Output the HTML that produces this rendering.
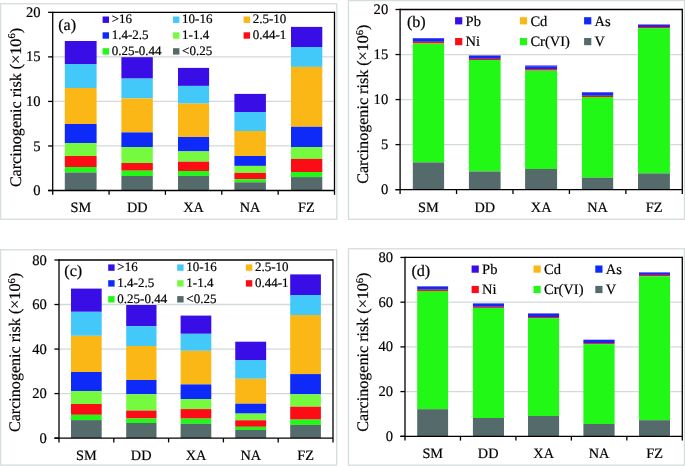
<!DOCTYPE html>
<html><head><meta charset="utf-8"><style>
html,body{margin:0;padding:0;background:#fff;}
svg{display:block;}
text{font-family:"Liberation Serif", serif;fill:#000;text-rendering:geometricPrecision;stroke:#000;stroke-width:0.2px;}
</style></head><body>
<svg width="685" height="466" viewBox="0 0 685 466">
<defs><filter id="bl" x="0" y="0" width="1" height="1"><feGaussianBlur stdDeviation="0.4"/></filter></defs>
<rect x="0" y="0" width="685" height="466" fill="#fff"/>
<g filter="url(#bl)">
<rect x="0" y="0" width="685" height="466" fill="#fff"/>
<rect x="0.55" y="3.75" width="336.3" height="215.5" fill="none" stroke="#d4dedc" stroke-width="1.35"/>
<line x1="52.70" y1="145.96" x2="334.50" y2="145.96" stroke="#d2dada" stroke-width="1.3"/>
<line x1="52.70" y1="101.42" x2="334.50" y2="101.42" stroke="#d2dada" stroke-width="1.3"/>
<line x1="52.70" y1="56.89" x2="334.50" y2="56.89" stroke="#d2dada" stroke-width="1.3"/>
<rect x="64.80" y="41.00" width="31.80" height="23.00" fill="#380ce6"/>
<rect x="64.80" y="64.00" width="31.80" height="24.00" fill="#42c9fa"/>
<rect x="64.80" y="88.00" width="31.80" height="36.00" fill="#fbb716"/>
<rect x="64.80" y="124.00" width="31.80" height="19.00" fill="#0a2af8"/>
<rect x="64.80" y="143.00" width="31.80" height="13.00" fill="#74fa40"/>
<rect x="64.80" y="156.00" width="31.80" height="11.00" fill="#fc0818"/>
<rect x="64.80" y="167.00" width="31.80" height="5.50" fill="#20f818"/>
<rect x="64.80" y="172.50" width="31.80" height="18.00" fill="#546a6b"/>
<rect x="121.40" y="57.20" width="31.40" height="21.40" fill="#380ce6"/>
<rect x="121.40" y="78.60" width="31.40" height="19.80" fill="#42c9fa"/>
<rect x="121.40" y="98.40" width="31.40" height="34.00" fill="#fbb716"/>
<rect x="121.40" y="132.40" width="31.40" height="14.60" fill="#0a2af8"/>
<rect x="121.40" y="147.00" width="31.40" height="16.00" fill="#74fa40"/>
<rect x="121.40" y="163.00" width="31.40" height="7.70" fill="#fc0818"/>
<rect x="121.40" y="170.70" width="31.40" height="5.30" fill="#20f818"/>
<rect x="121.40" y="176.00" width="31.40" height="14.50" fill="#546a6b"/>
<rect x="178.00" y="67.90" width="31.10" height="18.00" fill="#380ce6"/>
<rect x="178.00" y="85.90" width="31.10" height="17.70" fill="#42c9fa"/>
<rect x="178.00" y="103.60" width="31.10" height="33.40" fill="#fbb716"/>
<rect x="178.00" y="137.00" width="31.10" height="14.40" fill="#0a2af8"/>
<rect x="178.00" y="151.40" width="31.10" height="10.30" fill="#74fa40"/>
<rect x="178.00" y="161.70" width="31.10" height="9.30" fill="#fc0818"/>
<rect x="178.00" y="171.00" width="31.10" height="4.90" fill="#20f818"/>
<rect x="178.00" y="175.90" width="31.10" height="14.60" fill="#546a6b"/>
<rect x="234.40" y="93.90" width="31.50" height="18.10" fill="#380ce6"/>
<rect x="234.40" y="112.00" width="31.50" height="19.00" fill="#42c9fa"/>
<rect x="234.40" y="131.00" width="31.50" height="25.00" fill="#fbb716"/>
<rect x="234.40" y="156.00" width="31.50" height="9.90" fill="#0a2af8"/>
<rect x="234.40" y="165.90" width="31.50" height="7.00" fill="#74fa40"/>
<rect x="234.40" y="172.90" width="31.50" height="6.30" fill="#fc0818"/>
<rect x="234.40" y="179.20" width="31.50" height="3.10" fill="#20f818"/>
<rect x="234.40" y="182.30" width="31.50" height="8.20" fill="#546a6b"/>
<rect x="291.00" y="26.90" width="31.30" height="20.10" fill="#380ce6"/>
<rect x="291.00" y="47.00" width="31.30" height="19.90" fill="#42c9fa"/>
<rect x="291.00" y="66.90" width="31.30" height="59.90" fill="#fbb716"/>
<rect x="291.00" y="126.80" width="31.30" height="20.20" fill="#0a2af8"/>
<rect x="291.00" y="147.00" width="31.30" height="11.90" fill="#74fa40"/>
<rect x="291.00" y="158.90" width="31.30" height="13.10" fill="#fc0818"/>
<rect x="291.00" y="172.00" width="31.30" height="5.10" fill="#20f818"/>
<rect x="291.00" y="177.10" width="31.30" height="13.40" fill="#546a6b"/>
<line x1="52.70" y1="12.35" x2="334.50" y2="12.35" stroke="#000" stroke-width="1.3"/>
<line x1="334.50" y1="11.70" x2="334.50" y2="194.80" stroke="#000" stroke-width="1.3"/>
<line x1="52.70" y1="11.70" x2="52.70" y2="194.80" stroke="#000" stroke-width="1.3"/>
<line x1="48.10" y1="190.50" x2="334.50" y2="190.50" stroke="#000" stroke-width="1.3"/>
<line x1="48.10" y1="190.50" x2="52.70" y2="190.50" stroke="#000" stroke-width="1.3"/>
<text x="40.60" y="195.10" font-size="14.6px" text-anchor="end" >0</text>
<line x1="48.10" y1="145.96" x2="52.70" y2="145.96" stroke="#000" stroke-width="1.3"/>
<text x="40.60" y="150.56" font-size="14.6px" text-anchor="end" >5</text>
<line x1="48.10" y1="101.42" x2="52.70" y2="101.42" stroke="#000" stroke-width="1.3"/>
<text x="40.60" y="106.02" font-size="14.6px" text-anchor="end" >10</text>
<line x1="48.10" y1="56.89" x2="52.70" y2="56.89" stroke="#000" stroke-width="1.3"/>
<text x="40.60" y="61.49" font-size="14.6px" text-anchor="end" >15</text>
<line x1="48.10" y1="12.35" x2="52.70" y2="12.35" stroke="#000" stroke-width="1.3"/>
<text x="40.60" y="16.95" font-size="14.6px" text-anchor="end" >20</text>
<line x1="109.06" y1="190.50" x2="109.06" y2="194.80" stroke="#000" stroke-width="1.3"/>
<line x1="165.42" y1="190.50" x2="165.42" y2="194.80" stroke="#000" stroke-width="1.3"/>
<line x1="221.78" y1="190.50" x2="221.78" y2="194.80" stroke="#000" stroke-width="1.3"/>
<line x1="278.14" y1="190.50" x2="278.14" y2="194.80" stroke="#000" stroke-width="1.3"/>
<text x="80.88" y="212.30" font-size="14.3px" text-anchor="middle" >SM</text>
<text x="137.24" y="212.30" font-size="14.3px" text-anchor="middle" >DD</text>
<text x="193.60" y="212.30" font-size="14.3px" text-anchor="middle" >XA</text>
<text x="249.96" y="212.30" font-size="14.3px" text-anchor="middle" >NA</text>
<text x="306.32" y="212.30" font-size="14.3px" text-anchor="middle" >FZ</text>
<rect x="102.60" y="16.50" width="6.40" height="6.40" fill="#380ce6"/>
<text x="111.70" y="23.40" font-size="13px" text-anchor="start" >&gt;16</text>
<rect x="173.00" y="16.50" width="6.40" height="6.40" fill="#42c9fa"/>
<text x="182.10" y="23.40" font-size="13px" text-anchor="start" >10-16</text>
<rect x="243.60" y="16.50" width="6.40" height="6.40" fill="#fbb716"/>
<text x="252.70" y="23.40" font-size="13px" text-anchor="start" >2.5-10</text>
<rect x="102.60" y="32.30" width="6.40" height="6.40" fill="#0a2af8"/>
<text x="111.70" y="39.20" font-size="13px" text-anchor="start" >1.4-2.5</text>
<rect x="173.00" y="32.30" width="6.40" height="6.40" fill="#74fa40"/>
<text x="182.10" y="39.20" font-size="13px" text-anchor="start" >1-1.4</text>
<rect x="243.60" y="32.30" width="6.40" height="6.40" fill="#fc0818"/>
<text x="252.70" y="39.20" font-size="13px" text-anchor="start" >0.44-1</text>
<rect x="102.60" y="48.20" width="6.40" height="6.40" fill="#20f818"/>
<text x="111.70" y="55.10" font-size="13px" text-anchor="start" >0.25-0.44</text>
<rect x="173.00" y="48.20" width="6.40" height="6.40" fill="#546a6b"/>
<text x="182.10" y="55.10" font-size="13px" text-anchor="start" >&lt;0.25</text>
<text x="58.20" y="30.00" font-size="16.2px" text-anchor="start" >(a)</text>
<text transform="translate(20.60,107.55) rotate(-90)" font-size="16.1px" text-anchor="middle">Carcinogenic risk (×10<tspan font-size="10.5px" dy="-5.6">6</tspan><tspan dy="5.6">)</tspan></text>
<rect x="0.55" y="249.8" width="336.15" height="215.3" fill="none" stroke="#d4dedc" stroke-width="1.35"/>
<line x1="59.00" y1="393.58" x2="333.00" y2="393.58" stroke="#d2dada" stroke-width="1.3"/>
<line x1="59.00" y1="349.05" x2="333.00" y2="349.05" stroke="#d2dada" stroke-width="1.3"/>
<line x1="59.00" y1="304.52" x2="333.00" y2="304.52" stroke="#d2dada" stroke-width="1.3"/>
<rect x="71.00" y="288.60" width="30.70" height="23.20" fill="#380ce6"/>
<rect x="71.00" y="311.80" width="30.70" height="24.00" fill="#42c9fa"/>
<rect x="71.00" y="335.80" width="30.70" height="36.20" fill="#fbb716"/>
<rect x="71.00" y="372.00" width="30.70" height="19.00" fill="#0a2af8"/>
<rect x="71.00" y="391.00" width="30.70" height="13.00" fill="#74fa40"/>
<rect x="71.00" y="404.00" width="30.70" height="10.80" fill="#fc0818"/>
<rect x="71.00" y="414.80" width="30.70" height="5.30" fill="#20f818"/>
<rect x="71.00" y="420.10" width="30.70" height="18.00" fill="#546a6b"/>
<rect x="126.20" y="305.00" width="30.30" height="21.10" fill="#380ce6"/>
<rect x="126.20" y="326.10" width="30.30" height="19.90" fill="#42c9fa"/>
<rect x="126.20" y="346.00" width="30.30" height="34.00" fill="#fbb716"/>
<rect x="126.20" y="380.00" width="30.30" height="14.20" fill="#0a2af8"/>
<rect x="126.20" y="394.20" width="30.30" height="16.40" fill="#74fa40"/>
<rect x="126.20" y="410.60" width="30.30" height="7.90" fill="#fc0818"/>
<rect x="126.20" y="418.50" width="30.30" height="4.50" fill="#20f818"/>
<rect x="126.20" y="423.00" width="30.30" height="15.10" fill="#546a6b"/>
<rect x="180.60" y="315.60" width="30.70" height="18.20" fill="#380ce6"/>
<rect x="180.60" y="333.80" width="30.70" height="17.00" fill="#42c9fa"/>
<rect x="180.60" y="350.80" width="30.70" height="33.60" fill="#fbb716"/>
<rect x="180.60" y="384.40" width="30.70" height="14.60" fill="#0a2af8"/>
<rect x="180.60" y="399.00" width="30.70" height="10.10" fill="#74fa40"/>
<rect x="180.60" y="409.10" width="30.70" height="9.50" fill="#fc0818"/>
<rect x="180.60" y="418.60" width="30.70" height="5.20" fill="#20f818"/>
<rect x="180.60" y="423.80" width="30.70" height="14.30" fill="#546a6b"/>
<rect x="235.25" y="341.70" width="30.90" height="18.30" fill="#380ce6"/>
<rect x="235.25" y="360.00" width="30.90" height="18.75" fill="#42c9fa"/>
<rect x="235.25" y="378.75" width="30.90" height="24.95" fill="#fbb716"/>
<rect x="235.25" y="403.70" width="30.90" height="9.90" fill="#0a2af8"/>
<rect x="235.25" y="413.60" width="30.90" height="6.70" fill="#74fa40"/>
<rect x="235.25" y="420.30" width="30.90" height="6.50" fill="#fc0818"/>
<rect x="235.25" y="426.80" width="30.90" height="3.20" fill="#20f818"/>
<rect x="235.25" y="430.00" width="30.90" height="8.10" fill="#546a6b"/>
<rect x="290.20" y="274.40" width="30.70" height="20.60" fill="#380ce6"/>
<rect x="290.20" y="295.00" width="30.70" height="20.00" fill="#42c9fa"/>
<rect x="290.20" y="315.00" width="30.70" height="59.10" fill="#fbb716"/>
<rect x="290.20" y="374.10" width="30.70" height="20.20" fill="#0a2af8"/>
<rect x="290.20" y="394.30" width="30.70" height="12.40" fill="#74fa40"/>
<rect x="290.20" y="406.70" width="30.70" height="12.90" fill="#fc0818"/>
<rect x="290.20" y="419.60" width="30.70" height="5.30" fill="#20f818"/>
<rect x="290.20" y="424.90" width="30.70" height="13.20" fill="#546a6b"/>
<line x1="59.00" y1="260.00" x2="333.00" y2="260.00" stroke="#000" stroke-width="1.3"/>
<line x1="333.00" y1="259.35" x2="333.00" y2="442.40" stroke="#000" stroke-width="1.3"/>
<line x1="59.00" y1="259.35" x2="59.00" y2="442.40" stroke="#000" stroke-width="1.3"/>
<line x1="54.40" y1="438.10" x2="333.00" y2="438.10" stroke="#000" stroke-width="1.3"/>
<line x1="54.40" y1="438.10" x2="59.00" y2="438.10" stroke="#000" stroke-width="1.3"/>
<text x="46.80" y="442.70" font-size="14.6px" text-anchor="end" >0</text>
<line x1="54.40" y1="393.58" x2="59.00" y2="393.58" stroke="#000" stroke-width="1.3"/>
<text x="46.80" y="398.18" font-size="14.6px" text-anchor="end" >20</text>
<line x1="54.40" y1="349.05" x2="59.00" y2="349.05" stroke="#000" stroke-width="1.3"/>
<text x="46.80" y="353.65" font-size="14.6px" text-anchor="end" >40</text>
<line x1="54.40" y1="304.52" x2="59.00" y2="304.52" stroke="#000" stroke-width="1.3"/>
<text x="46.80" y="309.12" font-size="14.6px" text-anchor="end" >60</text>
<line x1="54.40" y1="260.00" x2="59.00" y2="260.00" stroke="#000" stroke-width="1.3"/>
<text x="46.80" y="264.60" font-size="14.6px" text-anchor="end" >80</text>
<line x1="113.80" y1="438.10" x2="113.80" y2="442.40" stroke="#000" stroke-width="1.3"/>
<line x1="168.60" y1="438.10" x2="168.60" y2="442.40" stroke="#000" stroke-width="1.3"/>
<line x1="223.40" y1="438.10" x2="223.40" y2="442.40" stroke="#000" stroke-width="1.3"/>
<line x1="278.20" y1="438.10" x2="278.20" y2="442.40" stroke="#000" stroke-width="1.3"/>
<text x="86.40" y="459.80" font-size="14.3px" text-anchor="middle" >SM</text>
<text x="141.20" y="459.80" font-size="14.3px" text-anchor="middle" >DD</text>
<text x="196.00" y="459.80" font-size="14.3px" text-anchor="middle" >XA</text>
<text x="250.80" y="459.80" font-size="14.3px" text-anchor="middle" >NA</text>
<text x="305.60" y="459.80" font-size="14.3px" text-anchor="middle" >FZ</text>
<rect x="108.20" y="264.40" width="6.40" height="6.40" fill="#380ce6"/>
<text x="117.30" y="271.30" font-size="13px" text-anchor="start" >&gt;16</text>
<rect x="177.20" y="264.40" width="6.40" height="6.40" fill="#42c9fa"/>
<text x="186.30" y="271.30" font-size="13px" text-anchor="start" >10-16</text>
<rect x="245.90" y="264.40" width="6.40" height="6.40" fill="#fbb716"/>
<text x="255.00" y="271.30" font-size="13px" text-anchor="start" >2.5-10</text>
<rect x="108.20" y="280.20" width="6.40" height="6.40" fill="#0a2af8"/>
<text x="117.30" y="287.10" font-size="13px" text-anchor="start" >1.4-2.5</text>
<rect x="177.20" y="280.20" width="6.40" height="6.40" fill="#74fa40"/>
<text x="186.30" y="287.10" font-size="13px" text-anchor="start" >1-1.4</text>
<rect x="245.90" y="280.20" width="6.40" height="6.40" fill="#fc0818"/>
<text x="255.00" y="287.10" font-size="13px" text-anchor="start" >0.44-1</text>
<rect x="108.20" y="296.10" width="6.40" height="6.40" fill="#20f818"/>
<text x="117.30" y="303.00" font-size="13px" text-anchor="start" >0.25-0.44</text>
<rect x="177.20" y="296.10" width="6.40" height="6.40" fill="#546a6b"/>
<text x="186.30" y="303.00" font-size="13px" text-anchor="start" >&lt;0.25</text>
<text x="64.30" y="276.10" font-size="16.2px" text-anchor="start" >(c)</text>
<text transform="translate(20.40,352.50) rotate(-90)" font-size="16.1px" text-anchor="middle">Carcinogenic risk (×10<tspan font-size="10.5px" dy="-5.6">6</tspan><tspan dy="5.6">)</tspan></text>
<rect x="348.45" y="0.55" width="336.00000000000006" height="218.7" fill="none" stroke="#d4dedc" stroke-width="1.35"/>
<line x1="400.10" y1="144.61" x2="682.30" y2="144.61" stroke="#d2dada" stroke-width="1.3"/>
<line x1="400.10" y1="99.58" x2="682.30" y2="99.58" stroke="#d2dada" stroke-width="1.3"/>
<line x1="400.10" y1="54.54" x2="682.30" y2="54.54" stroke="#d2dada" stroke-width="1.3"/>
<rect x="412.80" y="38.00" width="31.30" height="0.60" fill="#380ce6"/>
<rect x="412.80" y="38.60" width="31.30" height="0.00" fill="#fbb716"/>
<rect x="412.80" y="38.60" width="31.30" height="3.20" fill="#0a2af8"/>
<rect x="412.80" y="41.80" width="31.30" height="1.70" fill="#fc0818"/>
<rect x="412.80" y="43.50" width="31.30" height="118.90" fill="#20f818"/>
<rect x="412.80" y="162.40" width="31.30" height="27.25" fill="#546a6b"/>
<rect x="468.90" y="55.00" width="31.70" height="0.50" fill="#380ce6"/>
<rect x="468.90" y="55.50" width="31.70" height="0.30" fill="#fbb716"/>
<rect x="468.90" y="55.80" width="31.70" height="3.00" fill="#0a2af8"/>
<rect x="468.90" y="58.80" width="31.70" height="1.20" fill="#fc0818"/>
<rect x="468.90" y="60.00" width="31.70" height="111.50" fill="#20f818"/>
<rect x="468.90" y="171.50" width="31.70" height="18.15" fill="#546a6b"/>
<rect x="525.10" y="65.50" width="32.00" height="0.50" fill="#380ce6"/>
<rect x="525.10" y="66.00" width="32.00" height="0.20" fill="#fbb716"/>
<rect x="525.10" y="66.20" width="32.00" height="2.90" fill="#0a2af8"/>
<rect x="525.10" y="69.10" width="32.00" height="1.50" fill="#fc0818"/>
<rect x="525.10" y="70.60" width="32.00" height="98.40" fill="#20f818"/>
<rect x="525.10" y="169.00" width="32.00" height="20.65" fill="#546a6b"/>
<rect x="581.90" y="92.00" width="31.30" height="0.40" fill="#380ce6"/>
<rect x="581.90" y="92.40" width="31.30" height="0.10" fill="#fbb716"/>
<rect x="581.90" y="92.50" width="31.30" height="3.30" fill="#0a2af8"/>
<rect x="581.90" y="95.80" width="31.30" height="1.20" fill="#fc0818"/>
<rect x="581.90" y="97.00" width="31.30" height="80.70" fill="#20f818"/>
<rect x="581.90" y="177.70" width="31.30" height="11.95" fill="#546a6b"/>
<rect x="638.00" y="24.10" width="31.90" height="0.50" fill="#380ce6"/>
<rect x="638.00" y="24.60" width="31.90" height="0.30" fill="#fbb716"/>
<rect x="638.00" y="24.90" width="31.90" height="2.10" fill="#0a2af8"/>
<rect x="638.00" y="27.00" width="31.90" height="1.10" fill="#fc0818"/>
<rect x="638.00" y="28.10" width="31.90" height="145.30" fill="#20f818"/>
<rect x="638.00" y="173.40" width="31.90" height="16.25" fill="#546a6b"/>
<line x1="400.10" y1="9.50" x2="682.30" y2="9.50" stroke="#000" stroke-width="1.3"/>
<line x1="682.30" y1="8.85" x2="682.30" y2="193.95" stroke="#000" stroke-width="1.3"/>
<line x1="400.10" y1="8.85" x2="400.10" y2="193.95" stroke="#000" stroke-width="1.3"/>
<line x1="395.50" y1="189.65" x2="682.30" y2="189.65" stroke="#000" stroke-width="1.3"/>
<line x1="395.50" y1="189.65" x2="400.10" y2="189.65" stroke="#000" stroke-width="1.3"/>
<text x="388.20" y="194.25" font-size="14.6px" text-anchor="end" >0</text>
<line x1="395.50" y1="144.61" x2="400.10" y2="144.61" stroke="#000" stroke-width="1.3"/>
<text x="388.20" y="149.21" font-size="14.6px" text-anchor="end" >5</text>
<line x1="395.50" y1="99.58" x2="400.10" y2="99.58" stroke="#000" stroke-width="1.3"/>
<text x="388.20" y="104.17" font-size="14.6px" text-anchor="end" >10</text>
<line x1="395.50" y1="54.54" x2="400.10" y2="54.54" stroke="#000" stroke-width="1.3"/>
<text x="388.20" y="59.14" font-size="14.6px" text-anchor="end" >15</text>
<line x1="395.50" y1="9.50" x2="400.10" y2="9.50" stroke="#000" stroke-width="1.3"/>
<text x="388.20" y="14.10" font-size="14.6px" text-anchor="end" >20</text>
<line x1="456.54" y1="189.65" x2="456.54" y2="193.95" stroke="#000" stroke-width="1.3"/>
<line x1="512.98" y1="189.65" x2="512.98" y2="193.95" stroke="#000" stroke-width="1.3"/>
<line x1="569.42" y1="189.65" x2="569.42" y2="193.95" stroke="#000" stroke-width="1.3"/>
<line x1="625.86" y1="189.65" x2="625.86" y2="193.95" stroke="#000" stroke-width="1.3"/>
<text x="428.32" y="211.60" font-size="14.3px" text-anchor="middle" >SM</text>
<text x="484.76" y="211.60" font-size="14.3px" text-anchor="middle" >DD</text>
<text x="541.20" y="211.60" font-size="14.3px" text-anchor="middle" >XA</text>
<text x="597.64" y="211.60" font-size="14.3px" text-anchor="middle" >NA</text>
<text x="654.08" y="211.60" font-size="14.3px" text-anchor="middle" >FZ</text>
<rect x="455.10" y="17.20" width="7.20" height="7.20" fill="#380ce6"/>
<text x="465.60" y="25.50" font-size="14.5px" text-anchor="start" >Pb</text>
<rect x="519.90" y="17.20" width="7.20" height="7.20" fill="#fbb716"/>
<text x="530.40" y="25.50" font-size="14.5px" text-anchor="start" >Cd</text>
<rect x="584.10" y="17.20" width="7.20" height="7.20" fill="#0a2af8"/>
<text x="594.60" y="25.50" font-size="14.5px" text-anchor="start" >As</text>
<rect x="455.10" y="38.00" width="7.20" height="7.20" fill="#fc0818"/>
<text x="465.60" y="46.30" font-size="14.5px" text-anchor="start" >Ni</text>
<rect x="519.90" y="38.00" width="7.20" height="7.20" fill="#20f818"/>
<text x="530.40" y="46.30" font-size="14.5px" text-anchor="start" >Cr(VI)</text>
<rect x="584.10" y="38.00" width="7.20" height="7.20" fill="#546a6b"/>
<text x="594.60" y="46.30" font-size="14.5px" text-anchor="start" >V</text>
<text x="406.90" y="27.40" font-size="16.2px" text-anchor="start" >(b)</text>
<text transform="translate(368.20,104.20) rotate(-90)" font-size="16.1px" text-anchor="middle">Carcinogenic risk (×10<tspan font-size="10.5px" dy="-5.6">6</tspan><tspan dy="5.6">)</tspan></text>
<rect x="348.45" y="248.8" width="336.00000000000006" height="216.39999999999998" fill="none" stroke="#d4dedc" stroke-width="1.35"/>
<line x1="405.00" y1="391.59" x2="682.30" y2="391.59" stroke="#d2dada" stroke-width="1.3"/>
<line x1="405.00" y1="346.88" x2="682.30" y2="346.88" stroke="#d2dada" stroke-width="1.3"/>
<line x1="405.00" y1="302.16" x2="682.30" y2="302.16" stroke="#d2dada" stroke-width="1.3"/>
<rect x="417.20" y="286.00" width="30.90" height="0.40" fill="#380ce6"/>
<rect x="417.20" y="286.40" width="30.90" height="0.20" fill="#fbb716"/>
<rect x="417.20" y="286.60" width="30.90" height="3.10" fill="#0a2af8"/>
<rect x="417.20" y="289.70" width="30.90" height="1.30" fill="#fc0818"/>
<rect x="417.20" y="291.00" width="30.90" height="118.20" fill="#20f818"/>
<rect x="417.20" y="409.20" width="30.90" height="27.10" fill="#546a6b"/>
<rect x="472.90" y="303.10" width="31.10" height="0.30" fill="#380ce6"/>
<rect x="472.90" y="303.40" width="31.10" height="0.20" fill="#fbb716"/>
<rect x="472.90" y="303.60" width="31.10" height="3.20" fill="#0a2af8"/>
<rect x="472.90" y="306.80" width="31.10" height="1.10" fill="#fc0818"/>
<rect x="472.90" y="307.90" width="31.10" height="110.10" fill="#20f818"/>
<rect x="472.90" y="418.00" width="31.10" height="18.30" fill="#546a6b"/>
<rect x="528.00" y="313.10" width="31.10" height="0.40" fill="#380ce6"/>
<rect x="528.00" y="313.50" width="31.10" height="0.20" fill="#fbb716"/>
<rect x="528.00" y="313.70" width="31.10" height="3.30" fill="#0a2af8"/>
<rect x="528.00" y="317.00" width="31.10" height="1.10" fill="#fc0818"/>
<rect x="528.00" y="318.10" width="31.10" height="97.90" fill="#20f818"/>
<rect x="528.00" y="416.00" width="31.10" height="20.30" fill="#546a6b"/>
<rect x="583.40" y="339.60" width="31.20" height="0.30" fill="#380ce6"/>
<rect x="583.40" y="339.90" width="31.20" height="0.10" fill="#fbb716"/>
<rect x="583.40" y="340.00" width="31.20" height="3.10" fill="#0a2af8"/>
<rect x="583.40" y="343.10" width="31.20" height="1.00" fill="#fc0818"/>
<rect x="583.40" y="344.10" width="31.20" height="79.90" fill="#20f818"/>
<rect x="583.40" y="424.00" width="31.20" height="12.30" fill="#546a6b"/>
<rect x="639.00" y="272.20" width="31.00" height="0.20" fill="#380ce6"/>
<rect x="639.00" y="272.40" width="31.00" height="0.10" fill="#fbb716"/>
<rect x="639.00" y="272.50" width="31.00" height="2.40" fill="#0a2af8"/>
<rect x="639.00" y="274.90" width="31.00" height="1.40" fill="#fc0818"/>
<rect x="639.00" y="276.30" width="31.00" height="143.90" fill="#20f818"/>
<rect x="639.00" y="420.20" width="31.00" height="16.10" fill="#546a6b"/>
<line x1="405.00" y1="257.45" x2="682.30" y2="257.45" stroke="#000" stroke-width="1.3"/>
<line x1="682.30" y1="256.80" x2="682.30" y2="440.60" stroke="#000" stroke-width="1.3"/>
<line x1="405.00" y1="256.80" x2="405.00" y2="440.60" stroke="#000" stroke-width="1.3"/>
<line x1="400.40" y1="436.30" x2="682.30" y2="436.30" stroke="#000" stroke-width="1.3"/>
<line x1="400.40" y1="436.30" x2="405.00" y2="436.30" stroke="#000" stroke-width="1.3"/>
<text x="393.00" y="440.90" font-size="14.6px" text-anchor="end" >0</text>
<line x1="400.40" y1="391.59" x2="405.00" y2="391.59" stroke="#000" stroke-width="1.3"/>
<text x="393.00" y="396.19" font-size="14.6px" text-anchor="end" >20</text>
<line x1="400.40" y1="346.88" x2="405.00" y2="346.88" stroke="#000" stroke-width="1.3"/>
<text x="393.00" y="351.48" font-size="14.6px" text-anchor="end" >40</text>
<line x1="400.40" y1="302.16" x2="405.00" y2="302.16" stroke="#000" stroke-width="1.3"/>
<text x="393.00" y="306.76" font-size="14.6px" text-anchor="end" >60</text>
<line x1="400.40" y1="257.45" x2="405.00" y2="257.45" stroke="#000" stroke-width="1.3"/>
<text x="393.00" y="262.05" font-size="14.6px" text-anchor="end" >80</text>
<line x1="460.46" y1="436.30" x2="460.46" y2="440.60" stroke="#000" stroke-width="1.3"/>
<line x1="515.92" y1="436.30" x2="515.92" y2="440.60" stroke="#000" stroke-width="1.3"/>
<line x1="571.38" y1="436.30" x2="571.38" y2="440.60" stroke="#000" stroke-width="1.3"/>
<line x1="626.84" y1="436.30" x2="626.84" y2="440.60" stroke="#000" stroke-width="1.3"/>
<text x="432.73" y="457.80" font-size="14.3px" text-anchor="middle" >SM</text>
<text x="488.19" y="457.80" font-size="14.3px" text-anchor="middle" >DD</text>
<text x="543.65" y="457.80" font-size="14.3px" text-anchor="middle" >XA</text>
<text x="599.11" y="457.80" font-size="14.3px" text-anchor="middle" >NA</text>
<text x="654.57" y="457.80" font-size="14.3px" text-anchor="middle" >FZ</text>
<rect x="471.60" y="265.50" width="7.20" height="7.20" fill="#380ce6"/>
<text x="482.10" y="273.80" font-size="14.5px" text-anchor="start" >Pb</text>
<rect x="533.50" y="265.50" width="7.20" height="7.20" fill="#fbb716"/>
<text x="544.00" y="273.80" font-size="14.5px" text-anchor="start" >Cd</text>
<rect x="595.30" y="265.50" width="7.20" height="7.20" fill="#0a2af8"/>
<text x="605.80" y="273.80" font-size="14.5px" text-anchor="start" >As</text>
<rect x="471.60" y="285.90" width="7.20" height="7.20" fill="#fc0818"/>
<text x="482.10" y="294.20" font-size="14.5px" text-anchor="start" >Ni</text>
<rect x="533.50" y="285.90" width="7.20" height="7.20" fill="#20f818"/>
<text x="544.00" y="294.20" font-size="14.5px" text-anchor="start" >Cr(VI)</text>
<rect x="595.30" y="285.90" width="7.20" height="7.20" fill="#546a6b"/>
<text x="605.80" y="294.20" font-size="14.5px" text-anchor="start" >V</text>
<text x="411.40" y="276.30" font-size="16.2px" text-anchor="start" >(d)</text>
<text transform="translate(368.30,352.10) rotate(-90)" font-size="16.1px" text-anchor="middle">Carcinogenic risk (×10<tspan font-size="10.5px" dy="-5.6">6</tspan><tspan dy="5.6">)</tspan></text>
</g>
</svg>
</body></html>
